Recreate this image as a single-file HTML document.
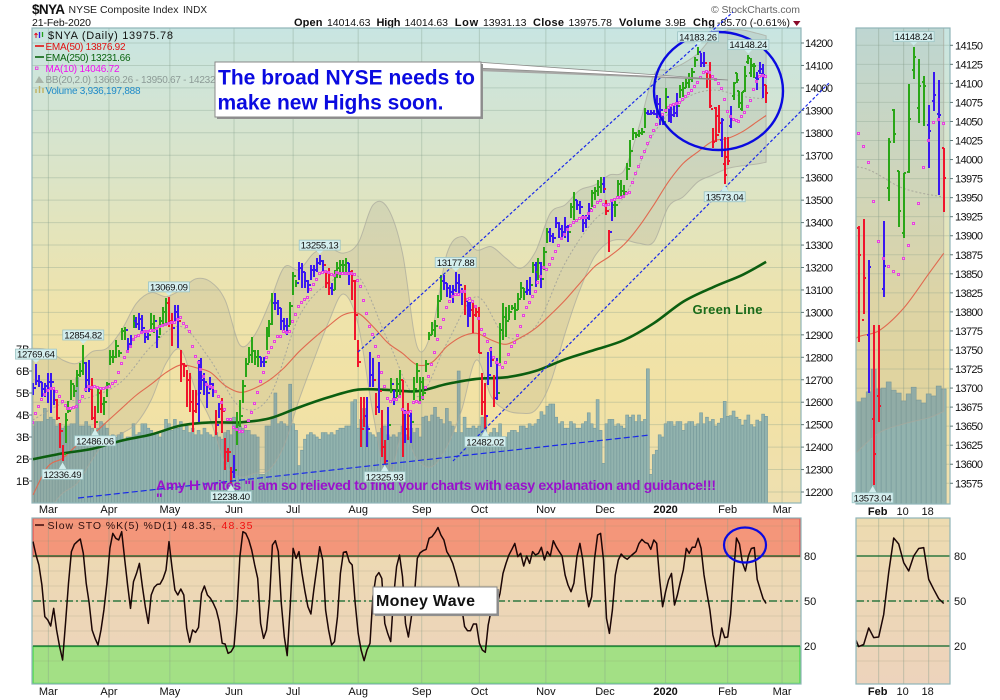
<!DOCTYPE html>
<html lang="en">
<head>
<meta charset="utf-8">
<title>$NYA NYSE Composite Index chart</title>
<style>
html,body{margin:0;padding:0;background:#fff;width:1000px;height:700px;overflow:hidden;}
svg{display:block;font-family:"Liberation Sans",Arial,sans-serif;}
text{font-family:"Liberation Sans",Arial,sans-serif;}
</style>
</head>
<body>
<svg id="chart" xmlns="http://www.w3.org/2000/svg" width="1000" height="700" viewBox="0 0 1000 700">
  <defs>
    <linearGradient id="priceBg" x1="0" y1="0" x2="0" y2="1">
      <stop offset="0" stop-color="#c8e5e2"/>
      <stop offset="0.32" stop-color="#dce4c6"/>
      <stop offset="0.58" stop-color="#eee3ac"/>
      <stop offset="0.78" stop-color="#f2e2a4"/>
      <stop offset="1" stop-color="#eedfb0"/>
    </linearGradient>
    <linearGradient id="stoBg" x1="0" y1="0" x2="0" y2="1">
      <stop offset="0" stop-color="#eddbb0"/>
      <stop offset="1" stop-color="#edd3bc"/>
    </linearGradient>
    <clipPath id="clipMain"><rect x="32" y="28" width="769" height="475"/></clipPath>
    <clipPath id="clipRight"><rect x="856" y="28" width="94" height="476"/></clipPath>
    <clipPath id="clipSto"><rect x="32" y="518" width="769" height="166"/></clipPath>
    <clipPath id="clipStoRight"><rect x="856" y="518" width="94" height="166"/></clipPath>
  </defs>

  <!-- header -->
  <g>
    <text x="32" y="14" font-size="13.5" font-weight="bold" fill="#111" textLength="33">$NYA</text>
    <text x="68.5" y="13" font-size="10.5" fill="#222" textLength="110">NYSE Composite Index</text>
    <text x="183" y="13" font-size="10" fill="#222" textLength="24">INDX</text>
    <text x="32" y="26" font-size="10.5" fill="#111" textLength="59">21-Feb-2020</text>
    <text x="294" y="26" font-size="11" font-weight="bold" fill="#111" textLength="28.5">Open</text>
    <text x="327" y="26" font-size="10.5" fill="#111" textLength="43.5">14014.63</text>
    <text x="376.5" y="26" font-size="11" font-weight="bold" fill="#111" textLength="24">High</text>
    <text x="404.5" y="26" font-size="10.5" fill="#111" textLength="43.5">14014.63</text>
    <text x="454.7" y="26" font-size="11" font-weight="bold" fill="#111" textLength="23.5">Low</text>
    <text x="483" y="26" font-size="10.5" fill="#111" textLength="43.5">13931.13</text>
    <text x="533" y="26" font-size="11" font-weight="bold" fill="#111" textLength="31">Close</text>
    <text x="568.5" y="26" font-size="10.5" fill="#111" textLength="43.5">13975.78</text>
    <text x="619" y="26" font-size="11" font-weight="bold" fill="#111" textLength="42">Volume</text>
    <text x="665" y="26" font-size="10.5" fill="#111" textLength="21">3.9B</text>
    <text x="693" y="26" font-size="11" font-weight="bold" fill="#111" textLength="22">Chg</text>
    <text x="717" y="26" font-size="10.5" fill="#111" textLength="73">-85.70 (-0.61%)</text>
    <path d="M793 21 H800.5 L796.7 26 Z" fill="#8a0a2a"/>
    <text x="711" y="13" font-size="10.5" fill="#666" textLength="89">© StockCharts.com</text>
  </g>

  <!-- panel backgrounds -->
  <rect x="32" y="28" width="769" height="475" fill="url(#priceBg)"/>
  <rect x="856" y="28" width="94" height="476" fill="url(#priceBg)"/>
  <rect x="32" y="518" width="769" height="166" fill="url(#stoBg)"/>
  <rect x="856" y="518" width="94" height="166" fill="url(#stoBg)"/>
  <rect x="33" y="518.5" width="767" height="38" fill="#f4967a" stroke="#e8605a" stroke-width="1.5"/>
  <rect x="33" y="646.5" width="767" height="37" fill="#a3e085" stroke="#55dd55" stroke-width="1.5"/>

  <g id="gridLayer"></g>
  <g id="mainLayer" clip-path="url(#clipMain)"></g>
  <g id="rightLayer" clip-path="url(#clipRight)"></g>
  <g id="stoLayer" clip-path="url(#clipSto)"></g>
  <g id="stoRightLayer" clip-path="url(#clipStoRight)"></g>

  <!-- panel frames -->
  <rect x="32" y="28" width="769" height="475" fill="none" stroke="#8fb5b8" stroke-width="1.2"/>
  <rect x="856" y="28" width="94" height="476" fill="none" stroke="#8fb5b8" stroke-width="1.2"/>
  <rect x="32" y="518" width="769" height="166" fill="none" stroke="#8fb5b8" stroke-width="1.2"/>
  <rect x="856" y="518" width="94" height="166" fill="none" stroke="#8fb5b8" stroke-width="1.2"/>

  <g id="axisLayer"></g>

  <!-- drawn annotations -->
  <g>
    <line x1="358" y1="352" x2="733" y2="12" stroke="#1a2ae8" stroke-width="1.2" stroke-dasharray="3 2"/>
    <line x1="453" y1="461" x2="830" y2="82" stroke="#1a2ae8" stroke-width="1.2" stroke-dasharray="3 2"/>
    <line x1="78" y1="498" x2="650" y2="435" stroke="#1a2ae8" stroke-width="1.2" stroke-dasharray="6 3"/>
    <polygon points="476,67 728,80.5 476,71" fill="#a8a8a6"/>
    <polygon points="476,62 728,80 476,68" fill="#ffffff" stroke="#8a8a88" stroke-width="0.8"/>
    <ellipse cx="718.5" cy="91" rx="64.5" ry="59" fill="none" stroke="#0a0ae0" stroke-width="2.4"/>
    <ellipse cx="745" cy="545" rx="21" ry="17.5" fill="none" stroke="#0a0ae0" stroke-width="2.2"/>
    <text x="692.5" y="314" font-size="13" font-weight="bold" fill="#1a6b1a" textLength="70">Green Line</text>
    <text x="156" y="490" font-size="14" font-weight="bold" fill="#9a10cc" textLength="560">Amy H writes "I am so relieved to find your charts with easy explanation and guidance!!!</text>
    <text x="156" y="503" font-size="14" font-weight="bold" fill="#9a10cc">"</text>
  </g>

  <g id="labelLayer"></g>

  <!-- legends -->
  <g>
    <path d="M36 38 V33 M36 33 l-1.5 2 M36 33 l1.5 2" stroke="#e01020" fill="none" stroke-width="1"/>
    <path d="M39.5 32 V38" stroke="#2a1ae8" fill="none" stroke-width="1.3"/>
    <path d="M42.5 32 V37" stroke="#22a018" fill="none" stroke-width="1.3"/>
    <text x="48" y="39" font-size="11" fill="#111" textLength="125">$NYA (Daily) 13975.78</text>
    <line x1="35" y1="46" x2="44" y2="46" stroke="#e01010" stroke-width="1.6"/>
    <text x="45.5" y="50" font-size="10" fill="#e01010" textLength="80">EMA(50) 13876.92</text>
    <line x1="35" y1="57" x2="44" y2="57" stroke="#0a640f" stroke-width="1.6"/>
    <text x="45.5" y="61" font-size="10" fill="#0a640f" textLength="85">EMA(250) 13231.66</text>
    <rect x="35.5" y="67" width="2.5" height="2.5" fill="none" stroke="#e830e0" stroke-width="0.8"/>
    <text x="45.5" y="72" font-size="10" fill="#f010f0" textLength="74">MA(10) 14046.72</text>
    <path d="M35 83 L39 76 L44 83 Z" fill="#a8b4a8"/>
    <text x="45.5" y="83" font-size="10" fill="#8c9a96" textLength="170">BB(20,2.0) 13669.26 - 13950.67 - 14232</text>
    <path d="M36 93 V89 M39.5 93 V86 M43 93 V88" stroke="#c0b060" stroke-width="1.4"/>
    <text x="45.5" y="94" font-size="10" fill="#1e8ac8" textLength="95">Volume 3,936,197,888</text>
    <line x1="35" y1="525" x2="44" y2="525" stroke="#400808" stroke-width="1.5"/>
    <text x="47.5" y="529" font-size="10.5" fill="#301010" textLength="168">Slow STO %K(5) %D(1) 48.35,</text>
    <text x="221.5" y="529" font-size="10.5" fill="#f01010" textLength="31">48.35</text>
  </g>

  <!-- callouts -->
  <g>
    <rect x="217" y="64" width="266" height="55" fill="#909090"/>
    <rect x="215" y="62" width="266" height="55" fill="#fff" stroke="#888" stroke-width="1"/>
    <text x="218" y="84.5" font-size="21" font-weight="bold" fill="#0a0ae0" textLength="257">The broad NYSE needs to</text>
    <text x="217.5" y="109.5" font-size="21" font-weight="bold" fill="#0a0ae0" textLength="226">make new Highs soon.</text>
  </g>
  <g>
    <rect x="375" y="589" width="124" height="27" fill="#909090"/>
    <rect x="373" y="587" width="124" height="27" fill="#fff" stroke="#888" stroke-width="1"/>
    <text x="376" y="606" font-size="16" font-weight="bold" fill="#111" textLength="99">Money Wave</text>
  </g>
</svg>

<script>
// ---------- categories and tick labels ----------
const monthLabels = ["Mar","Apr","May","Jun","Jul","Aug","Sep","Oct","Nov","Dec","2020","Feb","Mar"];
const monthBars   = [5.2,25.7,46.3,68,88,110,131.5,151,173.5,193.5,214,235,253.4];
const priceTicks  = [14200,14100,14000,13900,13800,13700,13600,13500,13400,13300,13200,13100,13000,12900,12800,12700,12600,12500,12400,12300,12200];
const zoomPriceTicks = [14150,14125,14100,14075,14050,14025,14000,13975,13950,13925,13900,13875,13850,13825,13800,13775,13750,13725,13700,13675,13650,13625,13600,13575];
const volumeTicks = [1,2,3,4,5,6,7];
const stoTicks    = [80,50,20];
const zoomDayLabels = ["Feb","10","18"];
const zoomDayBars   = [235,240,245];
const peakBars   = [1,17,46,97,143,225,242];
const troughBars = [10,21,67,119,153,234];

// ---------- series values ----------
const highs = [
12687,12769.64,12721,12692,12684,12732,12729,12655,12613,12506,
12410,12553,12605,12699,12677,12744,12776,12854.82,12781,12788,
12707,12583,12662,12655,12625,12692,12833,12833,12877,12833,
12929,12937,12885,12900,12989,12981,12996,12989,12922,12922,
12996,12989,12929,12981,13026,13063,13069.09,12996,13033,13033,
12833,12773,12744,12729,12655,12655,12788,12796,12729,12684,
12714,12684,12566,12595,12617,12439,12395,12313,12365,12558,
12610,12699,12796,12848,12892,12833,12833,12803,12803,12937,
12966,13085,13085,13055,13018,12974,12974,13048,13182,13145,
13226,13219,13182,13145,13211,13211,13241,13255.13,13234,13189,
13196,13130,13189,13226,13234,13234,13241,13219,13189,13145,
12877,12625,12625,12625,12825,12796,12640,12781,12566,12432,
12580,12707,12655,12707,12744,12699,12566,12595,12558,12714,
12773,12714,12714,12788,12914,12959,12966,13078,13167,13167,
13130,13122,13122,13177.88,13171,13107,13122,13048,13048,13041,
13033,13026,12729,12684,12825,12848,12721,12796,12952,13041,
13026,13033,13033,13041,13085,13137,13107,13145,13159,13226,
13226,13241,13226,13293,13375,13375,13352,13427,13404,13390,
13427,13390,13486,13538,13501,13494,13434,13434,13486,13546,
13560,13590,13604,13604,13500,13367,13501,13495,13590,13590,
13567,13664,13768,13820,13805,13812,13820,13909,13901,13901,
13901,13968,13953,13879,13998,13909,13916,13924,13976,14013,
14028,14043,14065,14087,14139,14183.26,14154,14161,14072,14117,
13820,13913,13922,13868,13783,13783,13919,14028,14067,13985,
13983,14099,14148.24,14132,14110,14072,14115,14105,14014.63];

const lows = [
12632,12677,12669,12625,12625,12595,12551,12588,12521,12395,
12336.49,12417,12551,12610,12625,12669,12714,12721,12647,12647,
12521,12486.06,12551,12551,12543,12625,12766,12773,12796,12803,
12877,12877,12825,12840,12929,12929,12922,12907,12863,12877,
12922,12907,12840,12900,12937,12944,12937,12851,12959,12840,
12692,12714,12580,12558,12469,12551,12514,12655,12632,12573,
12655,12625,12454,12528,12461,12298,12335,12238.40,12261,12410,
12491,12595,12714,12773,12773,12766,12759,12759,12759,12833,
12892,12944,13011,12989,12922,12922,12900,12944,13078,13115,
13145,13107,13107,13085,13145,13159,13182,13211,13182,13107,
13078,13078,13100,13152,13152,13174,13167,13122,13055,12877,
12758,12402,12491,12402,12669,12669,12543,12551,12358,12325.93,
12432,12640,12588,12625,12625,12358,12417,12432,12417,12610,
12684,12595,12610,12736,12877,12900,12892,12974,13055,13100,
13070,13063,13040,13092,13085,13033,12989,12937,12981,12907,
12981,12818,12543,12482.02,12677,12759,12580,12610,12773,12877,
12892,12966,13011,12966,13011,13063,13055,13078,13078,13174,
13115,13145,13107,13189,13308,13315,13311,13375,13330,13323,
13330,13315,13419,13412,13456,13440,13360,13375,13412,13470,
13500,13520,13530,13530,13435,13270,13405,13425,13515,13515,
13515,13590,13649,13768,13775,13783,13790,13820,13879,13879,
13879,13864,13835,13835,13887,13850,13842,13872,13872,13953,
13961,13998,13998,14028,14095,14146,14095,14095,13998,13909,
13731,13760,13797,13693,13573.04,13656,13820,13946,14022,13911,
13897,13983,14106,14048,14044,13989,14064,13953,13931.13];

const closes = [
12665,12695,12690,12660,12670,12690,12690,12610,12530,12470,
12370,12520,12560,12680,12650,12720,12740,12775,12700,12660,
12530,12510,12640,12590,12600,12680,12800,12800,12850,12820,
12915,12920,12860,12880,12960,12950,12970,12930,12890,12900,
12950,12960,12890,12960,13000,13040,12960,12930,13000,12960,
12770,12760,12700,12600,12560,12590,12640,12700,12690,12640,
12680,12650,12500,12570,12560,12380,12380,12290,12300,12500,
12540,12670,12770,12810,12830,12800,12800,12780,12780,12900,
12950,13040,13040,13020,12960,12940,12940,13030,13160,13130,
13200,13180,13140,13120,13190,13190,13220,13230,13210,13130,
13110,13100,13170,13200,13210,13210,13220,13180,13140,12990,
12780,12480,12540,12480,12720,12700,12580,12650,12400,12340,
12500,12680,12620,12680,12700,12550,12480,12540,12510,12660,
12740,12690,12640,12770,12900,12920,12940,13050,13140,13130,
13110,13090,13100,13130,13120,13090,13050,13010,13010,12990,
13000,12820,12600,12540,12720,12790,12620,12640,12920,12980,
12960,13000,13020,13010,13060,13110,13090,13100,13120,13210,
13180,13220,13150,13270,13360,13340,13330,13400,13370,13360,
13380,13360,13470,13500,13480,13470,13400,13420,13460,13530,
13540,13560,13570,13550,13450,13360,13480,13480,13570,13540,
13535,13640,13720,13800,13790,13800,13805,13890,13885,13890,
13885,13930,13900,13850,13960,13880,13880,13890,13920,13990,
14000,14020,14040,14070,14125,14160,14110,14110,14040,13920,
13760,13875,13844,13859,13613,13676,13860,14023,14033,13932,
13983,14053,14135,14097,14097,14038,14085,14058,13975.78];

// open prices for the last bars, which are legible in the zoom panel
const recentOpens = [13905,13910,13790,13770,13660,13690,13830,13963,14065,13985,13904,13984,14117,14068,14102,14045,14077,14060,14014.63];

// g = green, b = blue, r = red bar
const barKinds = (
"bbbbbbbbrr"+"rgggggggbb"+"rrgrgggggg"+"ggbbgbbbbb"+"ggbgggrrbb"+
"rrrrrrbbbb"+"bbrbrrrrbg"+"gggggggbbg"+"ggbbbbbggg"+"bbbbbbbbbr"+
"rbgggggbrr"+"rrrbbbrbrr"+"bgbggrbrbg"+"gggggggggb"+"bbbbbbrbbr"+
"rrrrbbrbgg"+"gggggggbbg"+"bgbggbbbbb"+"bbggbbbbbg"+"gggbrrbggg"+
"ggggggggbb"+"bbbbgbbbbg"+"ggggggbbrr"+"rrrbrrbggg"+"gggggbbbr").split("");

const ma10 = [
12506,12548,12580,12610,12632,12652,12658,12658,12644,12625,
12600,12585,12570,12570,12574,12577,12603,12622,12655,12666,
12662,12669,12662,12659,12658,12662,12669,12681,12689,12729,
12769,12796,12825,12848,12877,12889,12895,12907,12911,12914,
12916,12919,12925,12934,12940,12944,12949,12952,12955,12966,
12974,12949,12937,12914,12848,12803,12776,12744,12714,12677,
12669,12662,12647,12622,12595,12565,12521,12521,12487,12476,
12469,12469,12491,12518,12551,12592,12640,12692,12732,12796,
12820,12840,12870,12892,12889,12914,12907,12914,12959,12989,
13026,13041,13055,13063,13100,13122,13145,13171,13174,13182,
13177,13167,13162,13174,13171,13171,13171,13171,13171,13167,
13142,13112,13051,12992,12937,12900,12848,12803,12729,12669,
12616,12603,12610,12610,12625,
12565,12551,12551,12558,12598,12603,12595,12617,12662,
12714,12766,12818,12877,12929,12966,13018,13048,13070,13078,
13078,13093,13093,13055,13058,13048,13026,12969,12922,12900,
12870,12833,12796,12773,12766,12751,12773,12810,12845,12862,
12895,12937,12984,13018,13041,13067,13093,13130,13156,13197,
13190,13211,13237,13271,13296,13326,13345,13367,13385,13397,
13409,13415,13419,13419,13439,13453,13471,13486,13494,13479,
13474,13479,13494,13500,
13508,13511,13515,13527,13533,13575,13615,13649,13686,13716,
13750,13780,13809,13835,13864,13879,13899,13909,13919,13924,
13928,13931,13946,13961,13971,13988,14002,14020,14042,14068,
14072,14065,14050,
14034,14016,13996,13944,13892,13869,13859,13853,13848,13870,13887,13916,13941,13989,14025,14048,14052,14046.72];

// EMA(50) read every 5th bar, with the last bar as final entry
const ema50 = [12187,12313,12350,12410,12454,12513,12573,12632,12680,12732,
12766,12754,12733,12674,12644,12662,12699,12754,12825,12885,
12940,12989,12996,12937,12865,
12818,12766,12778,12848,12892,12907,12877,12858,12888,12929,12989,13055,13130,13204,13249,13303,13382,13479,
13582,13664,13716,13763,13775,13805,13850,13876.92];
const ema50Step = 5;

// EMA(250) read every 10th bar, with the last bar as final entry
const ema250 = [12346,12372,12392,12429,12456,12496,12510,12510,12528,12577,
12622,12656,12655,12649,12681,12704,12711,12739,12791,12833,
12877,12952,13048,13112,13167,13225];
const ema250Step = 10;

// Bollinger bands read every 5th bar, with the last bar as final entry
const bbUpper = [12840,12833,12788,12773,12825,12840,12922,13041,13088,13070,
13100,13149,13137,13055,12855,12900,13042,13202,13190,13264,
13287,13264,13309,13478,13465,
13264,12846,12921,13260,13338,13278,13293,13241,13197,13271,13442,13479,13545,13567,13612,13634,13827,14057,
14080,14109,14154,14228,14258,14258,14243,14232];
const bbLower = [12090,12120,12194,12239,12343,12432,12461,12506,12610,12773,
12833,12655,12521,12328,12268,12283,12300,12409,12610,12788,
12957,13082,12944,12552,12253,
12461,12343,12313,12402,12565,12788,12625,12565,12551,12565,12684,12907,13100,13249,13315,13323,13308,13315,
13471,13515,13582,13612,13641,13653,13661,13669.26];
const bbStep = 5;
// BB midline read every 10th bar
const bbMiddle = [12521,12595,12625,12692,12848,12937,12788,12580,12625,12981,
13130,13160,12877,12625,12862,13070,12892,12937,13219,13412,
13515,13797,13946,13990,13962,13950.67];
const bbMiddleStep = 10;

// Volume in billions
const volumes = [
3.5,3.7,3.7,3.7,4.3,3.8,3.9,3.8,3.5,3.6,
3.4,3.5,3.5,3.6,3.6,5.7,3.5,3.5,3.7,3.5,
3.4,3.3,3.4,3.7,3.6,3.4,3.0,3.1,3.0,3.1,
3.2,2.9,3.0,3.0,3.6,3.1,3.2,3.6,3.6,3.4,
3.3,3.1,3.2,3.0,3.3,3.8,3.6,3.3,3.8,3.4,
3.7,3.3,3.5,3.2,3.4,3.1,3.3,3.1,3.4,3.2,
3.1,3.0,3.2,3.0,2.9,3.2,3.3,3.1,3.9,3.6,
3.5,3.4,3.3,3.3,3.1,3.1,3.0,1.3,1.3,3.5,
3.5,3.9,5.0,3.6,3.7,3.6,3.5,5.4,3.6,3.3,
1.7,2.4,2.9,3.1,3.2,3.1,3.0,2.9,3.2,3.2,
3.1,3.2,3.1,3.3,3.4,3.4,3.5,3.5,4.6,4.7,
3.4,3.8,4.3,3.5,3.2,3.1,3.0,3.2,3.4,3.5,
3.1,3.0,3.1,3.0,3.2,3.5,3.1,3.0,3.4,3.2,
3.4,3.0,3.9,3.95,3.7,4.0,4.35,3.9,3.8,3.6,
4.3,3.7,3.5,3.2,6.0,3.2,3.9,3.4,3.4,3.5,
3.4,3.5,3.9,3.9,3.1,3.2,3.4,3.2,3.6,3.0,
3.0,3.2,3.3,3.3,3.2,3.5,3.5,3.4,3.6,3.5,
3.6,3.8,4.15,4.0,4.4,4.5,4.5,3.9,3.6,3.7,
3.4,3.4,3.7,3.6,3.4,3.4,3.6,3.7,4.1,3.6,
3.4,4.7,3.3,1.8,3.6,3.8,3.8,3.5,3.6,3.5,
3.4,4.0,3.9,4.0,3.7,4.0,3.7,3.8,6.1,1.3,
2.2,2.4,3.1,3.0,3.6,3.7,3.7,3.5,3.7,3.7,
3.3,3.6,3.7,3.7,3.5,3.6,4.1,3.6,3.9,3.7,
3.8,3.5,3.63,3.84,4.62,3.94,3.97,4.18,3.9,3.8,
3.53,3.77,4.0,3.56,3.46,3.77,3.7,4.04,3.94];

// Slow stochastic %K
const stoK = [
89.6,80.7,74,60.7,39.6,37.3,33.3,45.1,30.7,19.6,
10.7,35.1,61.8,82.9,87.8,89.6,91.3,81.8,61.8,48.5,
30.7,25.1,20.7,30.7,44,61.8,85.1,95.1,91.8,90.7,
96.2,78.4,60.7,45.1,62.9,68.4,75.1,59.6,46.2,35.1,
54,59.1,61.1,61.3,65,70.7,89.6,72.9,57.3,54,58,
54,31.8,22.5,30.7,29.1,32.4,55.1,60,54,51.8,
48.5,44,36.2,21.8,21.3,15.1,16.2,19.6,44,79.6,
96.2,95.1,90.7,84,74,65.1,35.1,25.1,30.7,50.7,
87.3,90.2,82.9,48.5,26.2,13.6,46.2,85.1,78.4,82.9,
68.4,56.2,46.2,41.3,57.3,72,86.2,77.3,44,30.7,20.7,
22.9,39.6,68.4,82.4,82.9,76.2,74,48.5,28.4,17.3,
10.2,17.3,21.8,52.9,66.2,68.9,65.1,35.1,28.4,22.9,
52.9,72.9,80.7,66.2,35,26,
39.6,52.9,78.4,82.2,83.6,84.4,91.8,92.9,95.6,99,94,90.7,82.9,79.6,75.1,68.4,60.7,46.2,32.9,30.2,
30.2,34.7,34.7,21.8,17.3,15.8,34,44,45.8,47.8,55.1,68.4,75.1,80.7,84.5,88.4,79.6,81.8,73.3,80,
75.1,82.9,80.7,81.8,85.8,77.3,82.9,80,90.2,86.2,82.9,80,67.3,60.7,56.2,61.8,79.6,88.4,77.3,57.3,
46.2,52.9,78.4,94,95.1,77.3,38.4,28.4,44,67.3,77.3,81.3,79.1,77.8,79.6,81.3,82.9,88.4,91.1,89.1,
88.4,84.5,90.7,88.4,64,46.2,56.2,64,68.4,47.3,54,62.9,70.7,85.1,81.8,85.8,85.8,91.8,85.1,67.3,
55.1,44,27.3,
19.6,21,32,25.6,26,41,69,92,88,75.6,70,80,85,85.6,64.4,57.8,51.6,48.35];

// ---------- axis functions ----------
const NS = "http://www.w3.org/2000/svg";
const lastBar = closes.length - 1;
const x = i => 33 + 2.956 * i;
const y = p => 43 + (14200 - p) * 0.2245;
const volY = v => 503 - v * 22;
const sy = v => 601 - (v - 50) * 1.5;
const rx = i => 858.67 + 5 * (i - 231);
const ry = p => 45.3 + (14150 - p) * 0.7617;
const rVolY = v => 504 - v * 29.2;
const barColor = {g:"#2aa618", b:"#3a18f0", r:"#f0142c"};

function mk(tag, props, parent, txt){
  const el = document.createElementNS(NS, tag);
  for (const k in props) el.setAttribute(k, props[k]);
  if (txt !== undefined) el.textContent = txt;
  parent.appendChild(el);
  return el;
}
const grid = document.getElementById("gridLayer");
const axis = document.getElementById("axisLayer");
const mainL = document.getElementById("mainLayer");
const rightL = document.getElementById("rightLayer");
const stoL = document.getElementById("stoLayer");
const stoR = document.getElementById("stoRightLayer");
const labelL = document.getElementById("labelLayer");
const stepIdx = (j, step) => Math.min(j * step, lastBar);

// Catmull-Rom curve through a list of [x, y] points
function curveCommands(pts){
  let d = "";
  for (let k = 0; k < pts.length - 1; k++) {
    const p0 = pts[Math.max(k-1, 0)], p1 = pts[k], p2 = pts[k+1], p3 = pts[Math.min(k+2, pts.length-1)];
    const c1x = p1[0] + (p2[0]-p0[0])/6, c1y = p1[1] + (p2[1]-p0[1])/6;
    const c2x = p2[0] - (p3[0]-p1[0])/6, c2y = p2[1] - (p3[1]-p1[1])/6;
    d += " C" + c1x.toFixed(1) + " " + c1y.toFixed(1) + " " + c2x.toFixed(1) + " " + c2y.toFixed(1) + " " + p2[0].toFixed(1) + " " + p2[1].toFixed(1);
  }
  return d;
}
function seriesPoints(values, step, fx, fy, startBar){
  const pts = [];
  values.forEach((v, j) => {
    const i = stepIdx(j, step);
    if (i >= startBar - step) pts.push([fx(i), fy(v)]);
  });
  return pts;
}

// ---------- gridlines and axes ----------
priceTicks.forEach(p => {
  const gl = mk("line", {x1:32, x2:801, y1:y(p), y2:y(p), stroke:"#7f9a88", "stroke-opacity":0.32, "stroke-width":1}, grid);
  
  
  const tk = mk("line", {x1:801, x2:804, y1:y(p), y2:y(p), stroke:"#607878", "stroke-width":1}, axis);
  
  
  const t = mk("text", {x:805, y:y(p)+4, "font-size":11, fill:"#111", textLength:28}, axis, String(p));
  
  
});
volumeTicks.forEach(v => {
  const tk = mk("line", {x1:29, x2:32, y1:volY(v), y2:volY(v), stroke:"#607878", "stroke-width":1}, axis);
  
  
  const t = mk("text", {x:16, y:volY(v)+4, "font-size":11, fill:"#111"}, axis, v + "B");
  
  
});
zoomPriceTicks.forEach(p => {
  const gl = mk("line", {x1:856, x2:950, y1:ry(p), y2:ry(p), stroke:"#7f9a88", "stroke-opacity":0.3, "stroke-width":1}, grid);
  
  
  const tk = mk("line", {x1:950, x2:953, y1:ry(p), y2:ry(p), stroke:"#607878", "stroke-width":1}, axis);
  
  
  const t = mk("text", {x:955, y:ry(p)+4, "font-size":11, fill:"#111", textLength:28}, axis, String(p));
  
  
});
monthLabels.forEach((m, k) => {
  const mx = x(monthBars[k]);
  const gl = mk("line", {x1:mx, x2:mx, y1:28, y2:503, stroke:"#7f9a88", "stroke-opacity":0.36, "stroke-width":1}, grid);
  
  
  const gl2 = mk("line", {x1:mx, x2:mx, y1:518, y2:684, stroke:"#7f9a88", "stroke-opacity":0.36, "stroke-width":1}, grid);
  
  
  const bold = m === "2020" ? "bold" : "normal";
  const t1 = mk("text", {x:mx, y:513, "font-size":11, "text-anchor":"middle", "font-weight":bold, fill:"#111"}, axis, m);
  
  
  const t2 = mk("text", {x:mx, y:695, "font-size":11, "text-anchor":"middle", "font-weight":bold, fill:"#111"}, axis, m);
  
  
});
zoomDayLabels.forEach((d, k) => {
  const dx = rx(zoomDayBars[k]);
  const gl = mk("line", {x1:dx, x2:dx, y1:28, y2:504, stroke:"#7f9a88", "stroke-opacity":0.4, "stroke-width":1}, grid);
  
  
  const gl2 = mk("line", {x1:dx, x2:dx, y1:518, y2:684, stroke:"#7f9a88", "stroke-opacity":0.4, "stroke-width":1}, grid);
  
  
  const bold = d === "Feb" ? "bold" : "normal";
  const t1 = mk("text", {x:dx-1, y:515, "font-size":11, "text-anchor":"middle", "font-weight":bold, fill:"#111"}, axis, d);
  
  
  const t2 = mk("text", {x:dx-1, y:695, "font-size":11, "text-anchor":"middle", "font-weight":bold, fill:"#111"}, axis, d);
  
  
});
for (let v = 10; v < 110; v += 10) {
  const gl = mk("line", {x1:32, x2:801, y1:sy(v), y2:sy(v), stroke:"#8a8a70", "stroke-opacity":0.2, "stroke-width":1}, grid);
  
  
  const gl2 = mk("line", {x1:856, x2:950, y1:sy(v), y2:sy(v), stroke:"#8a8a70", "stroke-opacity":0.2, "stroke-width":1}, grid);
  
  
}
stoTicks.forEach(v => {
  const dash = v === 50 ? "8 3 2 3" : "none";
  const ln = mk("line", {x1:33, x2:800, y1:sy(v), y2:sy(v), stroke:"#0a6428", "stroke-width":1.2, "stroke-dasharray":dash}, grid);
  
  
  const ln2 = mk("line", {x1:856, x2:950, y1:sy(v), y2:sy(v), stroke:"#0a6428", "stroke-width":1.2, "stroke-dasharray":dash}, grid);
  
  
  const t = mk("text", {x:804, y:sy(v)+4, "font-size":11, fill:"#111"}, axis, String(v));
  
  
  const t2 = mk("text", {x:954, y:sy(v)+4, "font-size":11, fill:"#111"}, axis, String(v));
  
  
});

// ---------- price panel drawing ----------
function drawPanel(layer, fx, fy, fv, volW, tickLen, startBar, showLongEma){
  // volume
  volumes.forEach((v, i) => {
    if (i < startBar) return;
    const r = mk("rect", {x:fx(i)-volW/2, y:fv(v), width:volW, height:504-fv(v), fill:"#92b3ae", stroke:"#76999b", "stroke-width":0.6}, layer);
    
    
  });
  // bollinger band
  const upPts = seriesPoints(bbUpper, bbStep, fx, fy, startBar);
  const lowPts = seriesPoints(bbLower, bbStep, fx, fy, startBar).reverse();
  const bandD = "M" + upPts[0][0].toFixed(1) + " " + upPts[0][1].toFixed(1) + curveCommands(upPts) +
                " L" + lowPts[0][0].toFixed(1) + " " + lowPts[0][1].toFixed(1) + curveCommands(lowPts) + " Z";
  const band = mk("path", {d: bandD, fill:"#8c8c80", "fill-opacity":0.17, stroke:"#a8a89c", "stroke-opacity":0.7, "stroke-width":1}, layer);
  
  
  const midPts = seriesPoints(bbMiddle, bbMiddleStep, fx, fy, startBar);
  const mid = mk("path", {d: "M" + midPts[0][0].toFixed(1) + " " + midPts[0][1].toFixed(1) + curveCommands(midPts), fill:"none", stroke:"#a8a89c", "stroke-width":1, "stroke-dasharray":"2 2"}, layer);
  
  
  // EMAs
  const e50Pts = seriesPoints(ema50, ema50Step, fx, fy, startBar);
  const e50 = mk("path", {d: "M" + e50Pts[0][0].toFixed(1) + " " + e50Pts[0][1].toFixed(1) + curveCommands(e50Pts), fill:"none", stroke:"#e06a50", "stroke-width":1.1}, layer);
  
  
  if (showLongEma) {
    const e250Pts = seriesPoints(ema250, ema250Step, fx, fy, startBar);
    const e250 = mk("path", {d: "M" + e250Pts[0][0].toFixed(1) + " " + e250Pts[0][1].toFixed(1) + curveCommands(e250Pts), fill:"none", stroke:"#0c5e10", "stroke-width":2.6, "stroke-linejoin":"round"}, layer);
    
    
  }
  // price bars
  closes.forEach((c, i) => {
    if (i < startBar) return;
    const recent = i - (closes.length - recentOpens.length);
    const o = recent >= 0 ? recentOpens[recent] : (i ? closes[i-1] : c);
    const px = Math.round(fx(i));
    const d = "M" + px + " " + Math.round(fy(highs[i])) + " V" + Math.round(fy(lows[i])) +
              " M" + (px - tickLen) + " " + Math.round(fy(o)) + " H" + px +
              " M" + px + " " + Math.round(fy(c)) + " H" + (px + tickLen);
    const b = mk("path", {d: d, stroke: barColor[barKinds[i]], "stroke-width": 2, fill:"none", "shape-rendering":"crispEdges"}, layer);
    
    
  });
  // MA10 squares
  ma10.forEach((v, i) => {
    if (i < startBar) return;
    const s = mk("rect", {x:Math.round(fx(i))-1.5, y:Math.round(fy(v))-1.5, width:2, height:2, fill:"#f6c6ee", "fill-opacity":0.6, stroke:"#e840e0", "stroke-width":1, "shape-rendering":"crispEdges"}, layer);
    
    
  });
}
drawPanel(mainL, x, y, volY, 2.96, 2, 0, true);
drawPanel(rightL, rx, ry, rVolY, 5, 2, 229, false);

// ---------- stochastic ----------
const stoPts = stoK.map((v, i) => x(i).toFixed(1) + "," + sy(v).toFixed(1)).join(" ");
const stoLine = mk("polyline", {points: stoPts, fill:"none", stroke:"#1c0606", "stroke-width":1.5, "stroke-linejoin":"round"}, stoL);


const stoRPts = stoK.map((v, i) => ({px: rx(i), v: v})).filter(q => q.px > 840).map(q => q.px.toFixed(1) + "," + sy(q.v).toFixed(1)).join(" ");
const stoRLine = mk("polyline", {points: stoRPts, fill:"none", stroke:"#1c0606", "stroke-width":1.5, "stroke-linejoin":"round"}, stoR);



// ---------- peak/trough labels ----------
function priceLabel(cx, anchorY, above, value, w){
  const top = above ? anchorY - 15 : anchorY + 8;
  const tipY = above ? anchorY - 1 : anchorY + 1;
  const baseY = above ? top + 10 : top;
  const tri = mk("path", {d: "M" + (cx-4) + " " + baseY + " L" + cx + " " + tipY + " L" + (cx+4) + " " + baseY + " Z", fill:"#cfeceb"}, labelL);
  
  
  const r = mk("rect", {x:cx - w/2, y:top, width:w, height:10, fill:"#d4eeee", stroke:"#9cc4c4", "stroke-width":0.8}, labelL);
  
  
  const t = mk("text", {x:cx, y:top+8.6, "font-size":9.6, "text-anchor":"middle", fill:"#111", textLength:38}, labelL, value.toFixed(2));
  
  
}
peakBars.forEach(i => priceLabel(x(i), y(highs[i]), true, highs[i], 41));
troughBars.forEach(i => priceLabel(x(i), y(lows[i]), false, lows[i], 41));
[242].forEach(i => priceLabel(rx(i), Math.max(ry(highs[i]), 46), true, highs[i], 41));
[234].forEach(i => priceLabel(rx(i)-1, ry(lows[i]), false, lows[i], 41));
</script>
</body>
</html>
